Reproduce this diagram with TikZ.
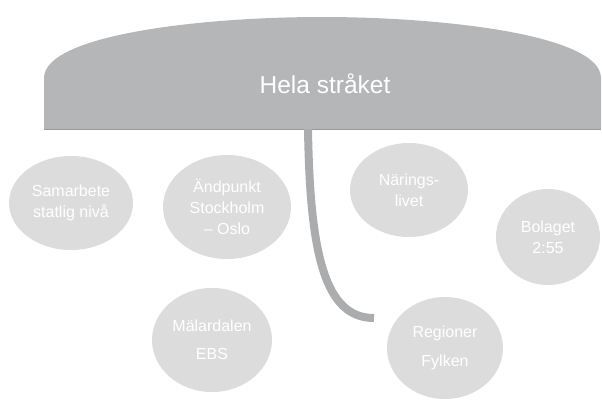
\documentclass[tikz,border=0pt]{standalone}
\usepackage{fontspec}
\setmainfont{Liberation Sans}
\usetikzlibrary{shapes.geometric}
\definecolor{domegray}{HTML}{B5B6B7}
\definecolor{bubblegray}{HTML}{DCDCDC}
\definecolor{linkgray}{HTML}{AAACAE}
\tikzset{
  bubble/.style={ellipse, fill=bubblegray, draw=none, inner sep=0pt, text=white,
    align=center, font=\fontsize{16}{21}\selectfont},
  titletext/.style={text=white, font=\fontsize{24.5}{28}\selectfont, inner sep=0pt},
  link/.style={draw=linkgray, line width=8pt, line cap=butt}
}
\begin{document}
\begin{tikzpicture}[x=1pt,y=-1pt]
\useasboundingbox (0,0) rectangle (602,399);
% dome
\fill[domegray] (44,129) -- (44,78) .. controls (44,35) and (200,17) .. (322,17)
  .. controls (444,17) and (601,35) .. (601,78) -- (601,129) -- cycle;
\draw[gray!80, line width=0.8pt] (44,129) -- (601,129);
\node[titletext] (title) at (325,84) {Hela stråket};
% connector
\coordinate (cstart) at (308,129);
\coordinate (cend) at (374,318);
\draw[link] (cstart) .. controls (310,255) and (325,318) .. (cend);
% bubbles
\node[bubble, minimum width=124pt, minimum height=94pt] (samarbete) at (71,203) {Samarbete\\statlig nivå};
\node[bubble, minimum width=128pt, minimum height=104pt] (andpunkt) at (227,207) {Ändpunkt\\Stockholm\\– Oslo};
\node[bubble, minimum width=118pt, minimum height=94pt] (naring) at (409,190) {Närings-\\livet};
\node[bubble, minimum width=104pt, minimum height=96pt] (bolaget) at (548,237) {Bolaget\\2:55};
\node[bubble, minimum width=120pt, minimum height=104pt] (malar) at (212,340) {Mälardalen\\[7pt]EBS};
\node[bubble, minimum width=116pt, minimum height=102pt] (region) at (445,348) {Regioner\\[8pt]Fylken};
\end{tikzpicture}
\end{document}
